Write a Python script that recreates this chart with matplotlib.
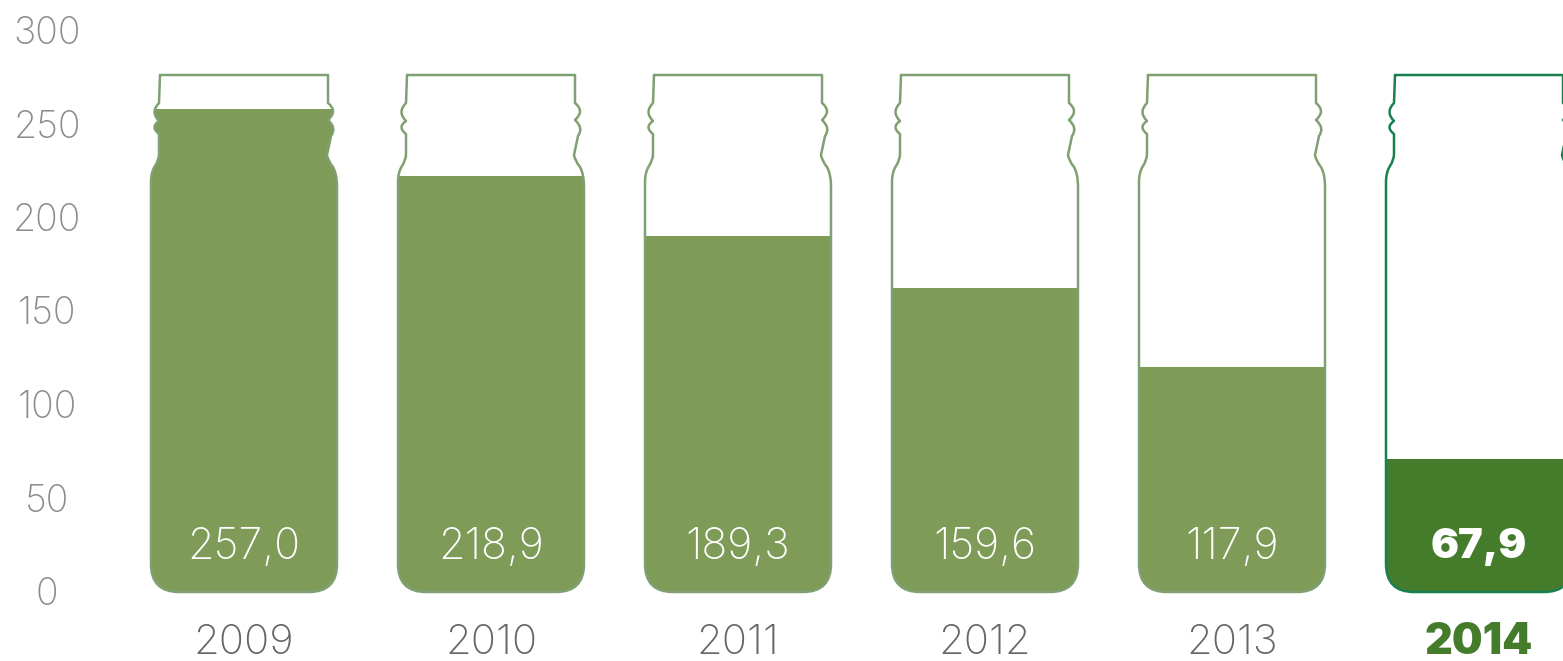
import matplotlib
matplotlib.use("Agg")
import matplotlib.pyplot as plt
import numpy as np
from matplotlib.patches import PathPatch
from matplotlib.path import Path

years = ["2009", "2010", "2011", "2012", "2013", "2014"]
value_labels = ["257,0", "218,9", "189,3", "159,6", "117,9", "67,9"]
# height of the fill as drawn, it differs a bit from the printed numbers
levels = [257.5, 222.0, 189.8, 162.0, 119.8, 70.6]
y_ticks = [0, 50, 100, 150, 200, 250, 300]

GREEN = "#7e9b58"
GREEN_LINE = "#7fa072"
DARK = "#447c2c"
DARK_LINE = "#1b8050"

W, H = 1563, 661
PX_X = 247.0  # pixels per category
PX_Y = 1.87  # pixels per unit

# jar outline in pixels, dx from centre and dy above the base
MOVE, LINE, CURVE = Path.MOVETO, Path.LINETO, Path.CURVE3
jar_pts = [
    (-84, 517, MOVE), (84, 517, LINE), (84, 489, LINE),
    (94, 481, CURVE), (84, 472, CURVE),
    (93, 464, CURVE), (87, 456, CURVE),
    (83, 437, LINE),
    (84, 431, CURVE), (89, 425, CURVE),
    (93, 418, CURVE), (93, 405, CURVE),
    (93, 28, LINE),
    (93, 0, CURVE), (65, 0, CURVE),
    (-65, 0, LINE),
    (-93, 0, CURVE), (-93, 28, CURVE),
    (-93, 410, LINE),
    (-93, 420, CURVE), (-89, 426, CURVE),
    (-85, 432, CURVE), (-85, 438, CURVE),
    (-85, 458, LINE),
    (-94, 465, CURVE), (-85, 471, CURVE),
    (-94, 480, CURVE), (-85, 489, CURVE),
    (-84, 517, LINE),
]
# flatten the curves here, the last jar runs off the canvas and curves get mangled there
jar_path = Path([p[:2] for p in jar_pts], [p[2] for p in jar_pts])
jar_poly = jar_path.to_polygons(closed_only=False)[0]

plt.rcParams["font.family"] = ["Inter", "DejaVu Sans"]

fig = plt.figure(figsize=(W / 100, H / 100), dpi=100)
ax = fig.add_axes([0, 0, 1, 1])
ax.set_xlim(-244 / PX_X, (W - 244) / PX_X)
ax.set_ylim(-(H - 591) / PX_Y, 591 / PX_Y)
for s in ax.spines.values():
    s.set_visible(False)

x = np.arange(len(years))
colors = [DARK if y == "2014" else GREEN for y in years]
line_colors = [DARK_LINE if y == "2014" else GREEN_LINE for y in years]
bars = ax.bar(x, levels, width=190 / PX_X, color=colors, linewidth=0)

for i, bar in enumerate(bars):
    verts = np.column_stack([i + jar_poly[:, 0] / PX_X, (jar_poly[:, 1] - 1) / PX_Y])
    jar = PathPatch(Path(verts), facecolor="none", edgecolor=line_colors[i], linewidth=1.8, joinstyle="round", capstyle="round", zorder=3)
    ax.add_patch(jar)
    # the base of the jar sits just under zero
    bar.set_y(-1)
    bar.set_height(levels[i] + 1)
    bar.set_clip_path(jar)
    bold = years[i] == "2014"
    ax.text(i, 23.5, value_labels[i], color="white", fontsize=30 if bold else 31, ha="center", va="center",
            fontweight="black" if bold else "light", zorder=4)

ax.set_yticks(y_ticks)
ax.set_yticklabels([str(t) for t in y_ticks])
ax.tick_params(axis="y", length=0, pad=-34, labelsize=27, labelcolor="#8c8c8c")
for lab in ax.get_yticklabels():
    lab.set_ha("center")
    lab.set_fontweight("light")

ax.set_xticks(x)
ax.set_xticklabels(years)
ax.tick_params(axis="x", length=0, pad=-13, labelsize=30, labelcolor="#666666")
for lab, y in zip(ax.get_xticklabels(), years):
    lab.set_va("center")
    lab.set_fontweight("light")
    if y == "2014":
        lab.set_fontweight("black")
        lab.set_fontsize(31)
        lab.set_color(DARK)

fig.savefig("out.png", dpi=100)
